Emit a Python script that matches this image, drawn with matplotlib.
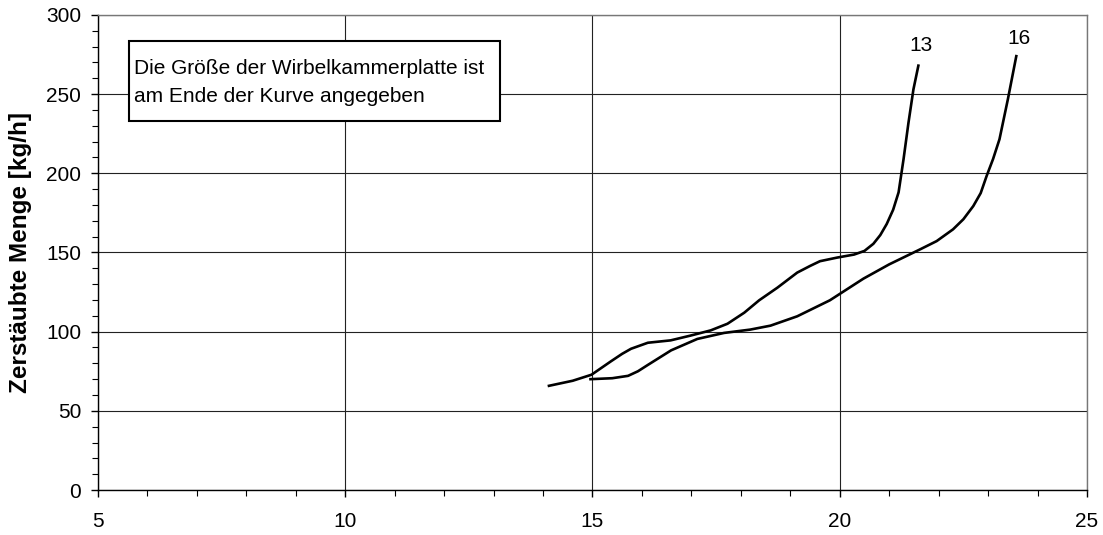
import matplotlib.pyplot as plt
from matplotlib.patches import Rectangle
from matplotlib.ticker import MultipleLocator

plt.rcParams['font.family'] = ['Liberation Sans', 'DejaVu Sans']

# curve "13"
x13 = [14.12, 14.6, 14.98, 15.37, 15.6, 15.78, 16.12, 16.58, 16.98, 17.39,
       17.73, 18.07, 18.37, 18.74, 19.14, 19.4, 19.6, 19.95, 20.29, 20.5,
       20.68, 20.82, 20.95, 21.08, 21.19, 21.29, 21.39, 21.49, 21.59]
y13 = [65.8, 69.0, 72.8, 81.2, 86.0, 89.2, 93.0, 94.5, 97.5, 100.8,
       105.0, 112.0, 119.8, 127.8, 137.3, 141.5, 144.5, 146.8, 148.7, 151.0,
       155.5, 161.0, 168.0, 177.0, 188.0, 208.9, 232.0, 253.0, 268.0]

# curve "16"
x16 = [14.96, 15.4, 15.72, 15.92, 16.12, 16.59, 17.12, 17.66, 18.19, 18.6,
       19.14, 19.8, 20.48, 21.0, 21.62, 21.96, 22.29, 22.5, 22.7, 22.85,
       22.97, 23.1, 23.23, 23.4, 23.57]
y16 = [70.0, 70.6, 72.1, 75.0, 79.0, 88.2, 95.4, 99.2, 101.3, 103.8,
       109.7, 119.8, 133.5, 142.5, 151.9, 157.2, 164.6, 171.0, 179.3, 187.5,
       198.3, 209.0, 221.5, 246.8, 274.0]

curve_labels = ["13", "16"]

fig = plt.figure(figsize=(11.03, 5.35), dpi=100)
ax = fig.add_axes([0.0888, 0.0841, 0.8967, 0.8879])

ax.plot(x13, y13, color='black', lw=1.9, zorder=3, solid_joinstyle='round')
ax.plot(x16, y16, color='black', lw=1.9, zorder=3, solid_joinstyle='round')

ax.text(x13[-1] + 0.05, y13[-1] + 7, curve_labels[0], fontsize=15, ha='center', va='bottom')
ax.text(x16[-1] + 0.05, y16[-1] + 5, curve_labels[1], fontsize=15, ha='center', va='bottom')

ax.set_xlim(5, 25)
ax.set_ylim(0, 300)
ax.xaxis.set_major_locator(MultipleLocator(5))
ax.xaxis.set_minor_locator(MultipleLocator(1))
ax.yaxis.set_major_locator(MultipleLocator(50))
ax.yaxis.set_minor_locator(MultipleLocator(10))
ax.grid(True, which='major', color='#222222', lw=0.8, zorder=1)

ax.tick_params(axis='both', which='major', direction='out', length=5, width=1, labelsize=15)
ax.tick_params(axis='x', which='major', pad=11)
ax.tick_params(axis='y', which='major', pad=7)
ax.tick_params(axis='both', which='minor', direction='out', length=4, width=0.8)

for s in ['left', 'bottom']:
    ax.spines[s].set_color('black')
    ax.spines[s].set_linewidth(1.0)
for s in ['top', 'right']:
    ax.spines[s].set_color('#777777')
    ax.spines[s].set_linewidth(1.0)

ax.set_ylabel('Zerstäubte Menge [kg/h]', fontsize=17.5, fontweight='bold', labelpad=10)

# note box
box = Rectangle((0.0313, 0.777), 0.3752, 0.168, transform=ax.transAxes,
                facecolor='white', edgecolor='black', lw=1.5, zorder=4)
ax.add_patch(box)
ax.text(0.036, 0.888, 'Die Größe der Wirbelkammerplatte ist', transform=ax.transAxes,
        fontsize=15, va='center', ha='left', zorder=5)
ax.text(0.036, 0.829, 'am Ende der Kurve angegeben', transform=ax.transAxes,
        fontsize=15, va='center', ha='left', zorder=5)

fig.savefig('out.png', dpi=100)
